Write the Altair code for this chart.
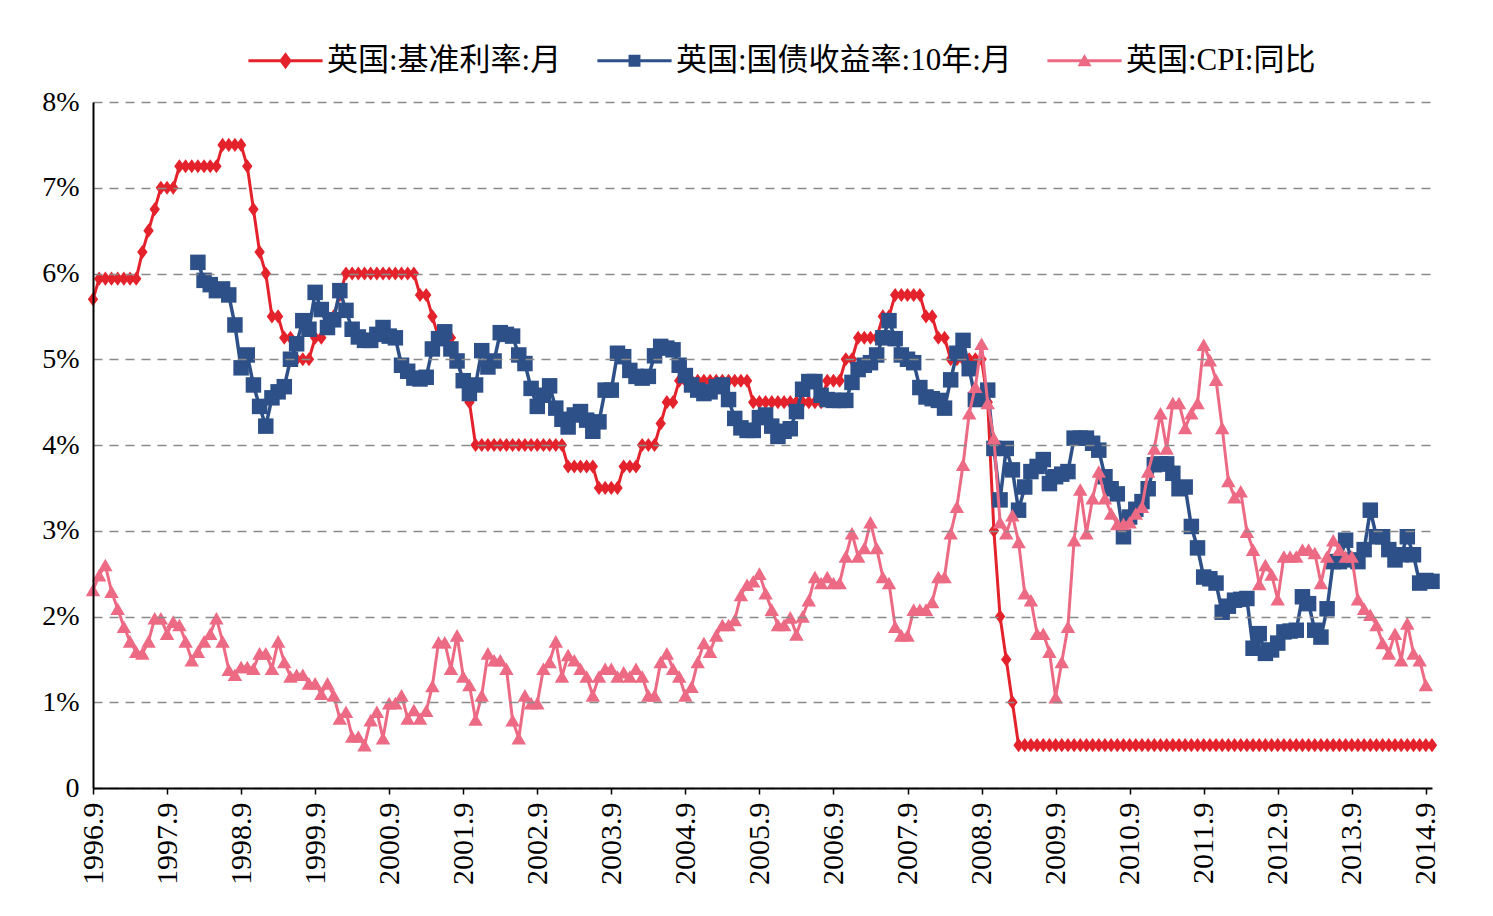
import altair as alt
import pandas as pd

# ---------------- data ----------------
series_names = ["英国:基准利率:月", "英国:国债收益率:10年:月", "英国:CPI:同比"]
series_colors = ["#E4222B", "#2E5088", "#EC6A84"]

tick_labels = ["1996.9", "1997.9", "1998.9", "1999.9", "2000.9", "2001.9", "2002.9",
               "2003.9", "2004.9", "2005.9", "2006.9", "2007.9", "2008.9", "2009.9",
               "2010.9", "2011.9", "2012.9", "2013.9", "2014.9"]
tick_months = [0, 12, 24, 36, 48, 60, 72, 84, 96, 108, 120, 132, 144, 156, 168, 180, 192, 204, 216]
y_ticks = [0, 1, 2, 3, 4, 5, 6, 7, 8]

# month index 0 = 1996.9
base_rate = [
    5.70, 5.94, 5.94, 5.94, 5.94, 5.94, 5.94, 5.94, 6.25, 6.50, 6.75, 7.00, 7.00, 7.00,
    7.25, 7.25, 7.25, 7.25, 7.25, 7.25, 7.25, 7.50, 7.50, 7.50, 7.50, 7.25, 6.75, 6.25,
    6.00, 5.50, 5.50, 5.25, 5.25, 5.00, 5.00, 5.00, 5.25, 5.25, 5.50, 5.50, 5.75,
    6.00, 6.00, 6.00, 6.00, 6.00, 6.00, 6.00, 6.00, 6.00, 6.00, 6.00, 6.00,
    5.75, 5.75, 5.50, 5.25, 5.25, 5.25, 5.00, 4.75, 4.50,
    4.00, 4.00, 4.00, 4.00, 4.00, 4.00, 4.00, 4.00, 4.00, 4.00, 4.00, 4.00, 4.00, 4.00, 4.00,
    3.75, 3.75, 3.75, 3.75, 3.75, 3.50, 3.50, 3.50, 3.50, 3.75, 3.75, 3.75,
    4.00, 4.00, 4.00, 4.25, 4.50, 4.50,
    4.75, 4.75, 4.75, 4.75, 4.75, 4.75, 4.75, 4.75, 4.75, 4.75, 4.75, 4.75,
    4.50, 4.50, 4.50, 4.50, 4.50, 4.50, 4.50, 4.50, 4.50, 4.50, 4.50, 4.50,
    4.75, 4.75, 4.75, 5.00, 5.00, 5.25, 5.25, 5.25, 5.25, 5.50, 5.50,
    5.75, 5.75, 5.75, 5.75, 5.75, 5.50, 5.50, 5.25, 5.25,
    5.00, 5.00, 5.00, 5.00, 5.00, 5.00, 4.50, 3.00, 2.00, 1.50, 1.00,
    0.50, 0.50, 0.50, 0.50, 0.50, 0.50, 0.50, 0.50, 0.50, 0.50, 0.50, 0.50,
    0.50, 0.50, 0.50, 0.50, 0.50, 0.50, 0.50, 0.50, 0.50, 0.50, 0.50, 0.50,
    0.50, 0.50, 0.50, 0.50, 0.50, 0.50, 0.50, 0.50, 0.50, 0.50, 0.50, 0.50,
    0.50, 0.50, 0.50, 0.50, 0.50, 0.50, 0.50, 0.50, 0.50, 0.50, 0.50, 0.50,
    0.50, 0.50, 0.50, 0.50, 0.50, 0.50, 0.50, 0.50, 0.50, 0.50, 0.50, 0.50,
    0.50, 0.50, 0.50, 0.50, 0.50, 0.50, 0.50, 0.50,
]

gilt_start = 17  # first gilt observation: 1998.2
gilt_10y = [
    6.13, 5.92, 5.87, 5.80, 5.82, 5.75, 5.40, 4.90, 5.05, 4.70, 4.45, 4.22,
    4.55, 4.62, 4.68, 5.00, 5.18, 5.45, 5.35, 5.78, 5.58, 5.37, 5.46, 5.80,
    5.57, 5.35, 5.26, 5.22, 5.22, 5.29, 5.37, 5.27, 5.25, 4.93, 4.86, 4.78,
    4.77, 4.79, 5.12, 5.24, 5.32, 5.12, 4.98, 4.75, 4.60, 4.70, 5.10, 4.91,
    4.98, 5.31, 5.29, 5.27, 5.05, 4.95, 4.66, 4.45, 4.58, 4.69, 4.43, 4.30,
    4.21, 4.35, 4.39, 4.29, 4.16, 4.27, 4.64, 4.64, 5.07, 5.03, 4.87, 4.80,
    4.78, 4.80, 5.04, 5.15, 5.13, 5.11, 4.93, 4.81, 4.70, 4.64, 4.60, 4.62,
    4.68, 4.70, 4.53, 4.31, 4.20, 4.17, 4.17, 4.32, 4.35, 4.22, 4.10, 4.16,
    4.19, 4.39, 4.65, 4.74, 4.74, 4.58, 4.53, 4.52, 4.52, 4.52, 4.73, 4.88,
    4.93, 4.96, 5.05, 5.25, 5.45, 5.24, 5.05, 5.00, 4.96, 4.67, 4.56, 4.54,
    4.52, 4.43, 4.76, 5.07, 5.22, 4.89, 4.53, 4.54, 4.64, 3.96, 3.36, 3.96,
    3.71, 3.24, 3.51, 3.69, 3.75, 3.83, 3.55, 3.63, 3.66, 3.69, 4.08, 4.08,
    4.08, 4.02, 3.94, 3.63, 3.49, 3.43, 2.93, 3.16, 3.25, 3.34, 3.49, 3.77,
    3.78, 3.78, 3.67, 3.49, 3.51, 3.05, 2.80, 2.46, 2.44, 2.39, 2.05, 2.12,
    2.19, 2.20, 2.21, 1.63, 1.80, 1.57, 1.61, 1.69, 1.82, 1.83, 1.84, 2.23,
    2.15, 1.84, 1.76, 2.09, 2.64, 2.64, 2.89, 2.66, 2.64, 2.78, 3.24, 2.93,
    2.93, 2.78, 2.66, 2.72, 2.93, 2.72, 2.39, 2.42, 2.41,
]

cpi = [
    2.31, 2.48, 2.60, 2.29, 2.09, 1.88, 1.71, 1.59, 1.57, 1.71, 1.98, 1.98,
    1.80, 1.94, 1.90, 1.71, 1.49, 1.59, 1.71, 1.80, 1.98, 1.71, 1.38, 1.32,
    1.41, 1.41, 1.39, 1.57, 1.57, 1.39, 1.71, 1.47, 1.30, 1.32, 1.32, 1.22,
    1.22, 1.10, 1.22, 1.08, 0.81, 0.89, 0.60, 0.60, 0.50, 0.79, 0.89, 0.58,
    0.99, 0.99, 1.08, 0.81, 0.91, 0.81, 0.90, 1.19, 1.70, 1.70, 1.39, 1.78,
    1.30, 1.20, 0.80, 1.08, 1.57, 1.49, 1.49, 1.39, 0.79, 0.58, 1.08, 0.99,
    0.99, 1.39, 1.47, 1.71, 1.30, 1.55, 1.49, 1.39, 1.30, 1.08, 1.30, 1.39,
    1.39, 1.30, 1.35, 1.30, 1.39, 1.30, 1.08, 1.08, 1.47, 1.57, 1.39, 1.30,
    1.08, 1.18, 1.47, 1.69, 1.59, 1.78, 1.90, 1.90, 1.96, 2.25, 2.37, 2.41,
    2.50, 2.27, 2.08, 1.90, 1.90, 1.99, 1.79, 2.00, 2.19, 2.46, 2.39, 2.46,
    2.39, 2.39, 2.70, 2.97, 2.70, 2.80, 3.10, 2.80, 2.46, 2.39, 1.88, 1.78,
    1.78, 2.08, 2.08, 2.08, 2.17, 2.46, 2.46, 2.97, 3.28, 3.77, 4.37, 4.68,
    5.18, 4.49, 4.08, 3.10, 2.97, 3.18, 2.87, 2.27, 2.19, 1.80, 1.80, 1.59,
    1.06, 1.47, 1.88, 2.89, 3.48, 2.97, 3.38, 3.69, 3.38, 3.20, 3.08, 3.08,
    3.10, 3.20, 3.28, 3.69, 3.96, 4.37, 3.96, 4.49, 4.49, 4.20, 4.37, 4.49,
    5.17, 4.99, 4.76, 4.20, 3.58, 3.39, 3.46, 2.99, 2.78, 2.38, 2.60, 2.49,
    2.20, 2.70, 2.70, 2.70, 2.78, 2.78, 2.74, 2.39, 2.70, 2.89, 2.78, 2.70,
    2.70, 2.20, 2.09, 2.02, 1.90, 1.69, 1.57, 1.80, 1.49, 1.92, 1.57, 1.49,
    1.20,
]

# ---------------- table ----------------
rows = []
for i, v in enumerate(base_rate):
    rows.append({"m": i, "v": v, "s": series_names[0]})
for i, v in enumerate(gilt_10y):
    rows.append({"m": gilt_start + i, "v": v, "s": series_names[1]})
for i, v in enumerate(cpi):
    rows.append({"m": i, "v": v, "s": series_names[2]})
df = pd.DataFrame(rows)

SERIF = "Liberation Serif"
CJK = "'Liberation Serif', 'Noto Sans CJK SC'"

x_label_expr = "[" + ",".join("'" + t + "'" for t in tick_labels) + "][round(datum.value / 12)]"

x_enc = alt.X(
    "m:Q",
    scale=alt.Scale(domain=[0, 217], nice=False, zero=False),
    axis=alt.Axis(
        values=tick_months, labelExpr=x_label_expr, title=None, grid=False,
        labelAngle=270, labelAlign="right", labelBaseline="middle",
        labelFont=SERIF, labelFontSize=30, labelColor="black", labelPadding=8,
        domainColor="black", domainWidth=2, ticks=True, tickColor="black",
        tickSize=6, tickWidth=1.5, zindex=2, labelOverlap=False,
    ),
)
y_enc = alt.Y(
    "v:Q",
    scale=alt.Scale(domain=[0, 8], nice=False, zero=True),
    axis=alt.Axis(
        values=y_ticks, labelExpr="datum.value == 0 ? '0' : datum.value + '%'",
        title=None, grid=True, gridColor="#8a8a8a", gridDash=[9, 7], gridWidth=1.4,
        labelFont=SERIF, labelFontSize=28, labelColor="black", labelPadding=14,
        domainColor="black", domainWidth=2, ticks=False, zindex=1,
    ),
)

diamond_path = "M0,-1.15L0.85,0L0,1.15L-0.85,0Z"
marker_shapes = [diamond_path, "square", "triangle-up"]
marker_sizes = [150, 240, 210]
line_widths = [3, 3.5, 3]

base = alt.Chart(df)
layers = []
for name, col, shp, sz, lw in zip(series_names, series_colors, marker_shapes, marker_sizes, line_widths):
    sub = base.transform_filter(alt.datum.s == name)
    layers.append(sub.mark_line(color=col, strokeWidth=lw).encode(x=x_enc, y=y_enc))
    layers.append(sub.mark_point(shape=shp, filled=True, color=col, size=sz, opacity=1,
                                 strokeWidth=0).encode(x=x_enc, y=y_enc))

# legend: line + marker symbols (legend-only layer: no rows pass its filter)
legend_line = "M-5.3,-0.21H5.3V0.21H-5.3Z"
legend_shapes = [
    legend_line + "M0,-1.2L0.9,0L0,1.2L-0.9,0Z",
    legend_line + "M-0.85,-0.85H0.85V0.85H-0.85Z",
    legend_line + "M0,-0.95L1,0.8H-1Z",
]
legend_layer = base.transform_filter("datum.m < 0").mark_point(filled=True, opacity=1).encode(
    x=x_enc, y=y_enc,
    color=alt.Color("s:N", scale=alt.Scale(domain=series_names, range=series_colors),
                    legend=alt.Legend(
                        title=None, orient="none", direction="horizontal",
                        legendX=177, legendY=-57, symbolSize=196, symbolOpacity=1,
                        symbolStrokeWidth=0, labelFont=CJK, labelFontSize=31,
                        labelColor="black", labelOffset=26, columnPadding=35,
                        labelLimit=600)),
    shape=alt.Shape("s:N", scale=alt.Scale(domain=series_names, range=legend_shapes)),
)
layers.append(legend_layer)

chart = alt.layer(*layers).properties(
    width=1339, height=686,
    padding={"left": 93, "top": 102, "right": 61, "bottom": 128},
    autosize=alt.AutoSizeParams(type="none"),
    background="white",
).configure_view(stroke=None)

chart.save("out.html", embed_options={"renderer": "svg", "actions": False})
